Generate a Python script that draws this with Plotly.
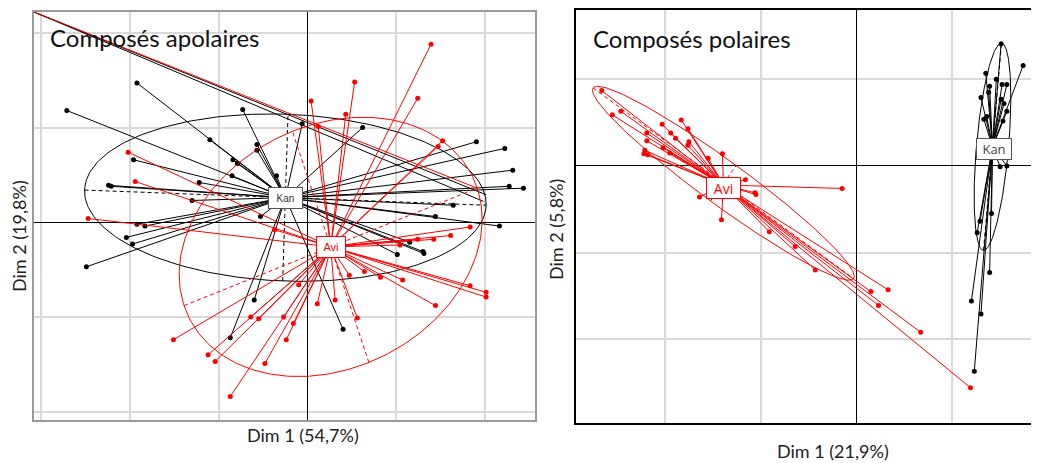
import numpy as np
import plotly.graph_objects as go

# ---------------- Left panel: Composés apolaires (grid units) ----------------
apo_kan_center = (-0.25, 0.26)
apo_avi_center = (0.26, -0.26)

apo_kan_x = [-1.92, -2.71, -1.10, -0.57, -0.57, -0.84, -0.79, -0.35, -0.85, -1.22,
             -1.96, -2.24, -2.21, -1.30, -0.53, -1.92, -1.83, -2.04, -1.97, -2.49,
             -0.60, -0.87, -0.73, -0.06, 0.62, 1.90, 2.22, 2.31, 2.27, 2.43,
             1.64, 1.44, 2.16, 1.15, 1.30, 1.31, 1.01, 0.40]
apo_kan_y = [1.47, 1.18, 0.87, 0.82, 0.76, 0.66, 0.62, 0.49, 0.49, 0.42,
             0.66, 0.39, 0.38, 0.23, 0.06, -0.02, -0.04, -0.16, -0.23, -0.47,
             -0.82, -1.22, 1.19, 1.04, 1.00, 0.85, 0.78, 0.55, 0.38, 0.36,
             0.18, 0.06, -0.04, -0.21, -0.31, -0.33, -0.34, -1.13]

apo_avi_x = [-2.02, -1.94, -2.47, -1.51, -1.12, -1.04, -0.87, -0.64, -0.55, -0.48,
             -0.27, -0.24, -0.16, 0.11, 0.31, 0.56, 0.47, 0.64, 0.82, 1.07,
             1.44, 1.83, 2.01, 2.01, 1.04, 1.24, 1.42, 1.61, 1.83, -0.37,
             -0.10, 1.39, 0.53, 1.24, 0.04, 0.43, 0.12, 1.52, 1.47]
apo_avi_y = [0.74, 0.43, 0.04, -1.24, -1.40, -1.47, -1.84, -1.00, -1.02, -1.49,
             -1.00, -1.24, -1.07, -0.86, -0.82, -1.01, -0.56, -0.52, -0.58, -0.61,
             -0.88, -0.67, -0.74, -0.79, -0.24, -0.18, -0.18, -0.14, -0.05, -0.08,
             -0.66, 1.88, 1.48, 1.31, 1.28, 1.14, 1.01, 0.86, 0.80]

# ellipses: centre and the two half-axis vectors
apo_kan_ell = {"c": (-0.25, 0.26), "a": (2.26, -0.08), "b": (0.03, 0.88)}
apo_avi_ell = {"c": (0.26, -0.26), "a": (1.65, 0.62), "b": (-0.43, 1.22)}

# links running in from the (clipped) top-left corner
apo_corner = (-3.08, 2.22)
apo_corner_kan_x = [2.01, 1.98]
apo_corner_kan_y = [0.29, 0.22]
apo_corner_avi_x = [1.91]
apo_corner_avi_y = [0.36]

# ---------------- Right panel: Composés polaires (grid units) ----------------
pol_kan_center = (1.42, 0.22)
pol_avi_center = (-1.39, -0.22)

pol_avi_x = [-2.66, -2.55, -2.46, -1.83, -2.03, -1.94, -1.89, -1.76, -2.19, -2.19,
             -1.75, -1.76, -2.02, -1.95, -2.21, -2.22, -2.18, -1.55, -1.40, -1.16,
             -1.06, -1.05, -1.64, -1.41, -0.15, -0.91, -0.64, -0.43, 0.15, 0.33,
             0.23, 0.67, 1.19]
pol_avi_y = [0.87, 0.59, 0.63, 0.53, 0.48, 0.38, 0.32, 0.43, 0.38, 0.29,
             0.28, 0.24, 0.21, 0.15, 0.18, 0.14, 0.13, 0.09, 0.14, -0.16,
             -0.31, -0.33, -0.36, -0.62, -0.26, -0.76, -0.93, -1.20, -1.45, -1.43,
             -1.61, -1.92, -2.56]

pol_kan_x = [1.51, 1.74, 1.35, 1.46, 1.52, 1.57, 1.39, 1.30, 1.38, 1.51,
             1.54, 1.57, 1.33, 1.53, 1.36, 1.50, 1.57, 1.41, 1.29, 1.26,
             1.39, 1.20, 1.30, 1.23]
pol_kan_y = [1.41, 1.16, 1.07, 1.00, 0.94, 0.94, 0.92, 0.79, 0.85, 0.77,
             0.72, 0.63, 0.54, 0.52, 0.57, -0.01, 0.00, -0.55, -0.64, -0.77,
             -1.23, -1.56, -1.71, -2.37]

pol_kan_ell = {"c": (1.42, 0.22), "a": (0.094, 1.195), "b": (0.167, -0.016)}
pol_avi_ell = {"c": (-1.39, -0.20), "a": (1.36, -1.10), "b": (0.135, 0.205)}

RED = "#FF0000"
BLACK = "#000000"


def star(center, xs, ys):
    lx, ly = [], []
    for x, y in zip(xs, ys):
        lx += [center[0], x, None]
        ly += [center[1], y, None]
    return lx, ly


def ellipse(e):
    t = np.linspace(0, 2 * np.pi, 241)
    cx, cy = e["c"]
    ax, ay = e["a"]
    bx, by = e["b"]
    return cx + ax * np.cos(t) + bx * np.sin(t), cy + ay * np.cos(t) + by * np.sin(t)


def ell_axes(e):
    cx, cy = e["c"]
    ax, ay = e["a"]
    bx, by = e["b"]
    return ([cx - ax, cx + ax, None, cx - bx, cx + bx],
            [cy - ay, cy + ay, None, cy - by, cy + by])


fig = go.Figure()


def add_group(xref, yref, center, xs, ys, ell, color):
    lx, ly = star(center, xs, ys)
    fig.add_trace(go.Scatter(x=lx, y=ly, mode="lines", xaxis=xref, yaxis=yref,
                             line=dict(color=color, width=1), hoverinfo="skip",
                             showlegend=False))
    ex, ey = ellipse(ell)
    fig.add_trace(go.Scatter(x=ex, y=ey, mode="lines", xaxis=xref, yaxis=yref,
                             line=dict(color=color, width=1), hoverinfo="skip",
                             showlegend=False))
    axx, axy = ell_axes(ell)
    fig.add_trace(go.Scatter(x=axx, y=axy, mode="lines", xaxis=xref, yaxis=yref,
                             line=dict(color=color, width=1, dash="4px,3px"),
                             hoverinfo="skip", showlegend=False))
    fig.add_trace(go.Scatter(x=xs, y=ys, mode="markers", xaxis=xref, yaxis=yref,
                             marker=dict(color=color, size=5), hoverinfo="skip",
                             showlegend=False, cliponaxis=True))


# left panel
ckx, cky = star(apo_corner, apo_corner_kan_x, apo_corner_kan_y)
fig.add_trace(go.Scatter(x=ckx, y=cky, mode="lines", xaxis="x", yaxis="y",
                         line=dict(color=BLACK, width=1), showlegend=False, hoverinfo="skip"))
add_group("x", "y", apo_kan_center, apo_kan_x, apo_kan_y, apo_kan_ell, BLACK)
cax, cay = star(apo_corner, apo_corner_avi_x, apo_corner_avi_y)
fig.add_trace(go.Scatter(x=cax, y=cay, mode="lines", xaxis="x", yaxis="y",
                         line=dict(color=RED, width=1), showlegend=False, hoverinfo="skip"))
add_group("x", "y", apo_avi_center, apo_avi_x, apo_avi_y, apo_avi_ell, RED)

# right panel
add_group("x2", "y2", pol_kan_center, pol_kan_x, pol_kan_y, pol_kan_ell, BLACK)
add_group("x2", "y2", pol_avi_center, pol_avi_x, pol_avi_y, pol_avi_ell, RED)

W, H = 1039, 463
OFF = 8  # page margin of the html body


def px(p):
    return (p - OFF) / W


def py(p):
    return 1 - (p - OFF) / H


grid = "#d9d9d9"
common = dict(dtick=1, tick0=0, showgrid=True, gridcolor=grid, gridwidth=1.5,
              zeroline=True, zerolinecolor=BLACK, zerolinewidth=1,
              showticklabels=False, ticks="", showline=True, mirror=True, linewidth=2)

fig.update_layout(
    width=W, height=H, margin=dict(l=0, r=0, t=0, b=0),
    paper_bgcolor="white", plot_bgcolor="white",
    xaxis=dict(domain=[px(34), px(536)], range=[-3.08, 2.56], linecolor="#9a9a9a", **common),
    yaxis=dict(domain=[py(420), py(10)], range=[-2.09, 2.22], linecolor="#9a9a9a", **common),
    xaxis2=dict(domain=[px(577), 1.0], range=[-2.93, 1.885 + 8 / 96], linecolor=BLACK,
                anchor="y2", **common),
    yaxis2=dict(domain=[py(423), py(8)], range=[-2.97, 1.80], linecolor=BLACK,
                anchor="x2", **common),
)

FONT = "Lato"
ann = []
# titles
ann.append(dict(text="Composés apolaires", xref="paper", yref="paper", x=px(48), y=py(36),
                xanchor="left", yanchor="middle", showarrow=False,
                font=dict(family=FONT, size=24, color="#111111")))
ann.append(dict(text="Composés polaires", xref="paper", yref="paper", x=px(592), y=py(37),
                xanchor="left", yanchor="middle", showarrow=False,
                font=dict(family=FONT, size=24, color="#111111")))
# axis titles
ann.append(dict(text="Dim 1 (54,7%)", xref="paper", yref="paper", x=px(304), y=py(435),
                xanchor="center", yanchor="middle", showarrow=False,
                font=dict(family=FONT, size=18, color="#222222")))
ann.append(dict(text="Dim 2 (19,8%)", xref="paper", yref="paper", x=px(19), y=py(235),
                xanchor="center", yanchor="middle", showarrow=False, textangle=-90,
                font=dict(family=FONT, size=18, color="#222222")))
ann.append(dict(text="Dim 1 (21,9%)", xref="paper", yref="paper", x=px(835), y=py(451),
                xanchor="center", yanchor="middle", showarrow=False,
                font=dict(family=FONT, size=18, color="#222222")))
ann.append(dict(text="Dim 2 (5,8%)", xref="paper", yref="paper", x=px(557), y=py(228),
                xanchor="center", yanchor="middle", showarrow=False, textangle=-90,
                font=dict(family=FONT, size=18, color="#222222")))
# group labels
ann.append(dict(text="Kan", xref="x", yref="y", x=apo_kan_center[0], y=apo_kan_center[1],
                showarrow=False, bgcolor="white", bordercolor="#555555", borderwidth=1,
                borderpad=0, width=33, height=20,
                font=dict(family="Liberation Sans", size=10, color="#333333")))
ann.append(dict(text="Avi", xref="x", yref="y", x=apo_avi_center[0], y=apo_avi_center[1],
                showarrow=False, bgcolor="white", bordercolor=RED, borderwidth=1,
                borderpad=0, width=28, height=20,
                font=dict(family="Liberation Sans", size=11, color=RED)))
ann.append(dict(text="Kan", xref="x2", yref="y2", x=pol_kan_center[0] + 0.02, y=pol_kan_center[1] - 0.03,
                showarrow=False, bgcolor="white", bordercolor="#555555", borderwidth=1,
                borderpad=0, width=34, height=20,
                font=dict(family="Open Sans", size=13, color="#444444")))
ann.append(dict(text="Avi", xref="x2", yref="y2", x=pol_avi_center[0], y=pol_avi_center[1] - 0.03,
                showarrow=False, bgcolor="white", bordercolor=RED, borderwidth=1,
                borderpad=0, width=33, height=20,
                font=dict(family="Open Sans", size=14, color=RED)))
fig.update_layout(annotations=ann)

fig.write_html("out.html")
